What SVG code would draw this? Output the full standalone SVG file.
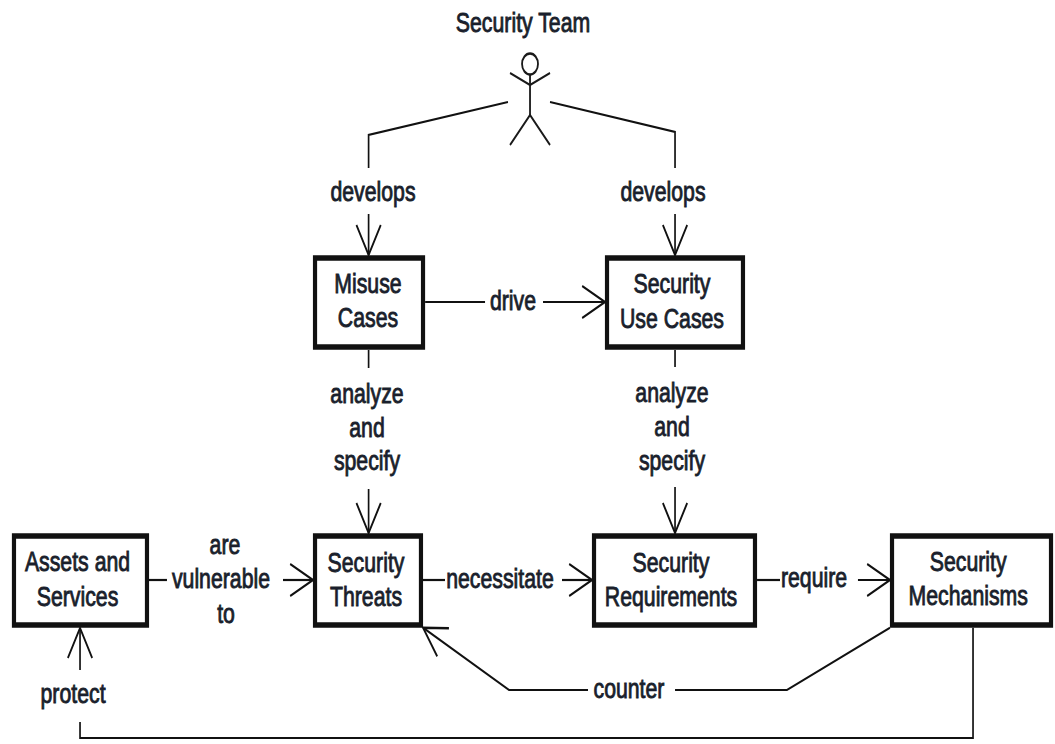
<svg xmlns="http://www.w3.org/2000/svg" width="1055" height="744" viewBox="0 0 1055 744">
<defs>
<style>
.box{fill:#fff;stroke:#111;stroke-width:5.5}
.ln{fill:none;stroke:#111;stroke-width:2.2}
.act{fill:none;stroke:#1a1a1a;stroke-width:2.4}
.t{font-family:"Liberation Sans",Arial,sans-serif;font-size:28px;fill:#1a1f2c;stroke:#1a1f2c;stroke-width:0.9;text-anchor:middle}
.arr{marker-end:url(#ah)}
</style>
<marker id="ah" markerUnits="userSpaceOnUse" markerWidth="40" markerHeight="40" viewBox="-32 -20 40 40" refX="0" refY="0" orient="auto" overflow="visible">
<path d="M-30,-16 L0,0 L-30,16" fill="none" stroke="#111" stroke-width="2.4"/>
</marker>
</defs>
<rect width="1055" height="744" fill="#fff"/>
<g transform="scale(0.76 1)">
<g id="connectors">
<polyline class="ln" points="668.4,102 485,135 485,168"/>
<text class="t" x="490.8" y="201">develops</text>
<line class="ln arr" x1="485" y1="214" x2="485" y2="255"/>
<polyline class="ln" points="723.7,102 888.2,132 888.2,168"/>
<text class="t" x="872.4" y="201">develops</text>
<line class="ln arr" x1="888.2" y1="214" x2="888.2" y2="255"/>
<line class="ln" x1="559.4" y1="302" x2="638.2" y2="302"/>
<text class="t" x="675" y="310">drive</text>
<line class="ln arr" x1="714.5" y1="302" x2="796" y2="302"/>
<line class="ln" x1="485" y1="350" x2="485" y2="368"/>
<text class="t" x="482.9" y="403">analyze</text>
<text class="t" x="482.9" y="437">and</text>
<text class="t" x="482.9" y="470">specify</text>
<line class="ln arr" x1="485" y1="489" x2="485" y2="533"/>
<line class="ln" x1="888.2" y1="350" x2="888.2" y2="367"/>
<text class="t" x="884.2" y="402">analyze</text>
<text class="t" x="884.2" y="436">and</text>
<text class="t" x="884.2" y="470">specify</text>
<line class="ln arr" x1="888.2" y1="487" x2="888.2" y2="533"/>
<line class="ln" x1="196" y1="580" x2="219.7" y2="580"/>
<text class="t" x="296" y="554">are</text>
<text class="t" x="290.8" y="588">vulnerable</text>
<text class="t" x="297.4" y="623">to</text>
<line class="ln arr" x1="372.4" y1="580" x2="411.8" y2="580"/>
<line class="ln" x1="556.6" y1="580" x2="585.5" y2="580"/>
<text class="t" x="657.9" y="588">necessitate</text>
<line class="ln arr" x1="739.5" y1="580" x2="778.9" y2="580"/>
<line class="ln" x1="996.1" y1="580" x2="1026.3" y2="580"/>
<text class="t" x="1071.1" y="587">require</text>
<line class="ln arr" x1="1128.9" y1="580" x2="1171" y2="580"/>
<polyline class="ln" points="1171,627.8 1035.5,690 888.2,690"/>
<text class="t" x="827.6" y="698">counter</text>
<polyline class="ln arr" points="773.7,690 669.7,690 556.7,627.8"/>
<polyline class="ln" points="1280.3,627.8 1280.3,738 105.3,738 105.3,722"/>
<text class="t" x="96.1" y="703">protect</text>
<line class="ln arr" x1="105.3" y1="670" x2="105.3" y2="628"/>
</g>
<g id="security-team">
<text class="t" x="688.2" y="32">Security Team</text>
<circle class="act" cx="697.4" cy="64" r="10.5"/>
<polyline class="act" points="671.1,73 697.4,85 723.7,73"/>
<line class="act" x1="697.4" y1="75" x2="697.4" y2="115"/>
<polyline class="act" points="671.1,145 697.4,115 723.7,145"/>
</g>
<g id="misuse-cases">
<rect class="box" x="414.5" y="258" width="142.1" height="89"/>
<text class="t" x="484.2" y="293">Misuse</text>
<text class="t" x="484.2" y="327">Cases</text>
</g>
<g id="security-use-cases">
<rect class="box" x="798.7" y="258" width="178.9" height="89"/>
<text class="t" x="884.2" y="293">Security</text>
<text class="t" x="884.2" y="328">Use Cases</text>
</g>
<g id="assets-and-services">
<rect class="box" x="18.4" y="536" width="175" height="89"/>
<text class="t" x="102" y="571">Assets and</text>
<text class="t" x="102" y="606">Services</text>
</g>
<g id="security-threats">
<rect class="box" x="414.5" y="536" width="139.4" height="89"/>
<text class="t" x="481.6" y="572">Security</text>
<text class="t" x="481.6" y="606">Threats</text>
</g>
<g id="security-requirements">
<rect class="box" x="781.6" y="536" width="211.8" height="89"/>
<text class="t" x="882.9" y="572">Security</text>
<text class="t" x="882.9" y="606">Requirements</text>
</g>
<g id="security-mechanisms">
<rect class="box" x="1173.7" y="536" width="209.2" height="89"/>
<text class="t" x="1274" y="571">Security</text>
<text class="t" x="1274" y="605">Mechanisms</text>
</g>
</g>
</svg>
